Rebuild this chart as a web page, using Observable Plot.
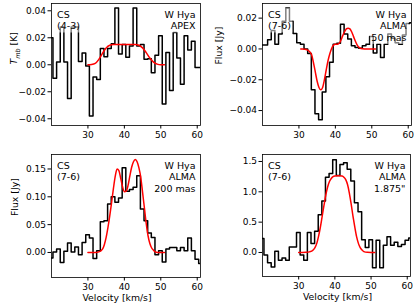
<!DOCTYPE html>
<html><head><meta charset="utf-8">
<script src="https://cdn.jsdelivr.net/npm/d3@7"></script>
<script src="https://cdn.jsdelivr.net/npm/@observablehq/plot@0.6"></script>
<style>
html,body{margin:0;padding:0;background:#fff;}
#fig{position:relative;width:416px;height:307px;background:#fff;font-family:"DejaVu Sans";overflow:hidden;}
#fig svg{position:absolute;display:block;max-width:none !important;}
</style></head><body><div id="fig"></div>
<script>
// channel centres (km/s)
const velocity = [19.9,20.9,21.9,22.9,23.9,24.9,25.9,26.9,27.9,28.9,29.9,30.9,31.9,32.9,33.9,34.9,35.9,36.9,37.9,38.9,39.9,40.9,41.9,42.9,43.9,44.9,45.9,46.9,47.9,48.9,49.9,50.9,51.9,52.9,53.9,54.9,55.9,56.9,57.9,58.9,59.9,60.9];
// observed spectra
const apexCS43 = [0.020,-0.010,0.002,0.028,0.002,-0.025,0.028,0.028,0.0025,0.0087,-0.001,-0.038,-0.009,-0.011,0.012,0.006,0.012,0.0155,0.042,0.008,0.015,0.0055,0.014,0.042,0.014,0.015,0.004,0.0045,-0.006,0.007,0.0215,-0.029,0.009,-0.019,0.024,0.005,-0.0145,0.0215,0.011,0.0175,-0.002,-0.002];
const alma50 = [0.0026,0.0026,0.006,0.012,0.003,0.0097,0.018,0.0265,0.018,0.010,0.004,0.003,0.000,-0.003,-0.0265,-0.042,-0.046,-0.028,-0.018,-0.0086,0.003,0.0037,0.016,0.0097,0.0065,0.002,0.001,0.0004,0.002,0.003,0.008,-0.0026,0.003,-0.0055,0.003,0.0097,0.007,0.004,0.003,0.009,0.0165,0.017];
const alma200 = [-0.010,0.001,0.006,-0.018,0.002,0.017,0.001,0.010,-0.004,0.018,0.032,0.026,-0.011,0.003,0.055,0.057,0.087,0.100,0.090,0.098,0.152,0.110,0.113,0.117,0.138,0.078,0.057,0.035,0.027,-0.004,0.003,-0.017,0.006,0.009,0.009,0.003,0.009,0.003,0.026,0.003,-0.012,-0.020];
const alma1875 = [0.23,-0.04,-0.17,-0.24,0.02,-0.13,-0.09,-0.13,0.09,0.09,0.33,-0.04,-0.13,0.33,0.15,0.35,0.62,0.85,1.24,1.30,1.53,1.27,1.45,1.48,1.37,1.18,0.82,0.67,0.21,0.08,0.21,-0.25,0.20,-0.25,0.12,0.26,0.12,0.17,0.10,0.13,0.20,0.24];
// model fits (red)
const fit1V = [30,31,32,33,34,35,36,37,38,39,40,41,42,43,44,45,46,47,48,49,50,51];
const fit1Y = [0,0.0002,0.001,0.004,0.0085,0.0125,0.0145,0.015,0.015,0.015,0.015,0.015,0.015,0.015,0.0145,0.0125,0.009,0.005,0.002,0.0005,0,0];
const fit2V = [30.5,31,32,33,33.5,34,34.5,35,35.5,36,36.5,37,37.5,38,38.5,39,39.5,40,40.5,41,41.5,42,42.5,43,43.5,44,44.5,45,45.5,46,46.5,47,48,49,50,51];
const fit2Y = [0,0,-0.0003,-0.002,-0.004,-0.009,-0.015,-0.021,-0.025,-0.0265,-0.025,-0.02,-0.0135,-0.0075,-0.003,0.0005,0.0025,0.003,0.003,0.0035,0.0055,0.0085,0.011,0.013,0.0135,0.013,0.011,0.008,0.005,0.0025,0.001,0.0003,0,0,0,0];
const fit3V = [30,31,32,33,34,34.5,35,35.5,36,36.5,37,37.5,38,38.5,39,39.5,40,40.5,41,41.5,42,42.5,43,43.5,44,44.5,45,45.5,46,46.5,47,47.5,48,48.5,49,50,51];
const fit3Y = [0,0,0,0.001,0.006,0.014,0.027,0.045,0.066,0.09,0.115,0.137,0.15,0.147,0.133,0.118,0.109,0.11,0.12,0.137,0.153,0.163,0.167,0.163,0.152,0.135,0.108,0.08,0.052,0.03,0.016,0.008,0.004,0.001,0,0,0];
const fit4V = [30,31,32,33,34,34.5,35,35.5,36,36.5,37,37.5,38,38.5,39,39.5,40,41,42,42.5,43,43.5,44,44.5,45,45.5,46,46.5,47,47.5,48,49,50,51];
const fit4Y = [0,0,0.002,0.01,0.04,0.08,0.15,0.27,0.42,0.6,0.78,0.95,1.08,1.17,1.22,1.25,1.26,1.265,1.26,1.24,1.2,1.12,0.98,0.8,0.6,0.42,0.26,0.15,0.08,0.04,0.015,0.002,0,0];
// tick labels / texts
const xTicks = [30,40,50,60];
const yTicks1 = [-0.04,-0.02,0.00,0.02,0.04];
const yTicks2 = [-0.04,-0.02,0.00,0.02];
const yTicks3 = [0.00,0.05,0.10,0.15];
const yTicks4 = [0.0,0.5,1.0,1.5];
const leftTexts = ["CS\n(4-3)","CS\n(7-6)","CS\n(7-6)","CS\n(7-6)"];
const rightTexts = ["W Hya\nAPEX","W Hya\nALMA\n50 mas","W Hya\nALMA\n200 mas","W Hya\nALMA\n1.875\""];
const yLabels = ["Tmb [K]","Flux [Jy]","Flux [Jy]",null];
const xLabel = "Velocity [km/s]";

const fig = document.getElementById("fig");
const f2 = d3.format(".2f"), f1 = d3.format(".1f");

const panels = [
  {values: apexCS43, fitV: fit1V, fitY: fit1Y, yDomain: [-0.045,0.0454], yTicks: yTicks1, fmt: f2,
   left: 0, top: 0, w: 208, h: 150, m: [3,8,25,51], ylab: yLabels[0], ylabDx: -37, xlab: null},
  {values: alma50, fitV: fit2V, fitY: fit2Y, yDomain: [-0.0497,0.0295], yTicks: yTicks2, fmt: f2,
   left: 208, top: 0, w: 208, h: 150, m: [3,5,25,54], ylab: yLabels[1], ylabDx: -43, xlab: null},
  {values: alma200, fitV: fit3V, fitY: fit3Y, yDomain: [-0.045,0.176], yTicks: yTicks3, fmt: f2,
   left: 0, top: 150, w: 208, h: 157, m: [4,8,30,51], ylab: yLabels[2], ylabDx: -36, xlab: xLabel, xlabDx: -9},
  {values: alma1875, fitV: fit4V, fitY: fit4Y, yDomain: [-0.396,1.615], yTicks: yTicks4, fmt: f1,
   left: 208, top: 150, w: 208, h: 157, m: [4,6,31,54], ylab: yLabels[3], xlab: xLabel, xlabDx: 1}
];

panels.forEach((o, k) => {
  const steps = velocity.map((v, i) => ({v, f: o.values[i]}));
  const fit = o.fitV.map((v, i) => ({v, f: o.fitY[i]}));
  const marks = [
    Plot.line(steps, {x: "v", y: "f", curve: "step", stroke: "black", strokeWidth: 1.5, clip: true}),
    Plot.line(fit, {x: "v", y: "f", curve: "monotone-x", stroke: "red", strokeWidth: 1.5, clip: true}),
    Plot.frame({stroke: "black", strokeWidth: 0.8}),
    Plot.axisX({ticks: xTicks, tickFormat: d => String(d), tickSize: 3.5, tickPadding: 2.5, label: null}),
    Plot.axisY({ticks: o.yTicks, tickFormat: o.fmt, tickSize: 3.5, tickPadding: 2, label: null}),
    Plot.text([leftTexts[k]], {text: d => d, frameAnchor: "top-left", textAnchor: "start", lineAnchor: "top", dx: 5.5, dy: 6.5, lineHeight: 1.2, fontSize: 9.5}),
    Plot.text([rightTexts[k]], {text: d => d, frameAnchor: "top-right", textAnchor: "end", lineAnchor: "top", dx: -5, dy: 6.5, lineHeight: 1.2, fontSize: 9.5})
  ];
  if (o.ylab) marks.push(Plot.text([o.ylab], {text: d => d, frameAnchor: "left", rotate: -90, dx: o.ylabDx, fontSize: 9.3}));
  if (o.xlab) marks.push(Plot.text([o.xlab], {text: d => d, frameAnchor: "bottom", lineAnchor: "middle", dy: 21, dx: o.xlabDx, fontSize: 9.3}));
  const svg = Plot.plot({
    width: o.w, height: o.h,
    marginTop: o.m[0], marginRight: o.m[1], marginBottom: o.m[2], marginLeft: o.m[3],
    x: {domain: [20, 60.9]},
    y: {domain: o.yDomain},
    style: {fontFamily: "DejaVu Sans", fontSize: "9px", color: "black", background: "transparent", overflow: "visible"},
    marks
  });
  svg.style.position = "absolute";
  svg.style.left = o.left + "px";
  svg.style.top = o.top + "px";
  svg.style.width = o.w + "px";
  svg.style.height = o.h + "px";
  fig.appendChild(svg);
  // semi-transparent white boxes behind the annotations, subscript for T_mb
  svg.querySelectorAll("text").forEach(t => {
    const s = t.textContent;
    if (s.startsWith("CS") || s.startsWith("W Hya")) {
      const bb = t.getBBox();
      const r = document.createElementNS("http://www.w3.org/2000/svg", "rect");
      r.setAttribute("x", bb.x - 1.5); r.setAttribute("y", bb.y - 1);
      r.setAttribute("width", bb.width + 3); r.setAttribute("height", bb.height + 2);
      r.setAttribute("fill", "white"); r.setAttribute("fill-opacity", "0.5");
      if (t.getAttribute("transform")) r.setAttribute("transform", t.getAttribute("transform"));
      t.parentNode.insertBefore(r, t);
    } else if (s === "Tmb [K]") {
      t.textContent = "";
      const ns = "http://www.w3.org/2000/svg";
      const a = document.createElementNS(ns, "tspan"); a.textContent = "T"; a.setAttribute("font-style", "italic");
      const b = document.createElementNS(ns, "tspan"); b.textContent = "mb"; b.setAttribute("font-style", "italic"); b.setAttribute("font-size", "6.5"); b.setAttribute("dy", "2.5");
      const c = document.createElementNS(ns, "tspan"); c.textContent = " [K]"; c.setAttribute("dy", "-2.5");
      t.append(a, b, c);
    }
  });
});
</script></body></html>
